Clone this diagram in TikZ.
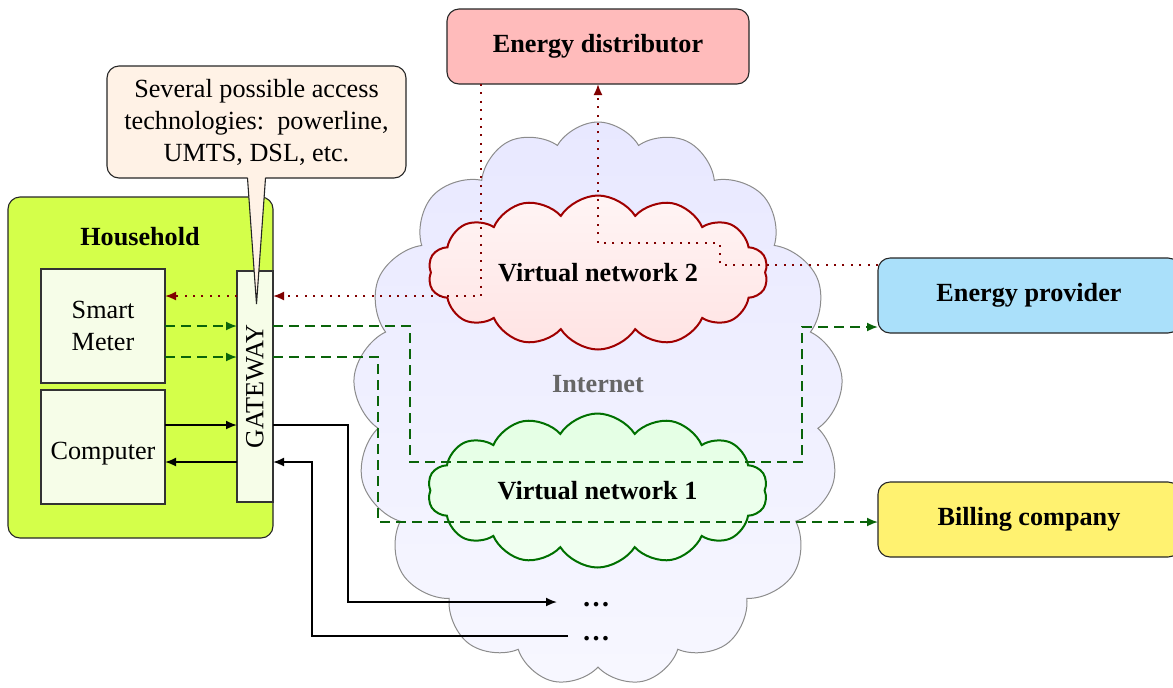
\documentclass[tikz,border=0pt]{standalone}
\usepackage{fontspec}
\setmainfont{Liberation Serif}
\usetikzlibrary{shapes.symbols,arrows.meta,calc}

\definecolor{hhfill}{HTML}{D4FF4A}
\definecolor{devfill}{HTML}{F6FDE8}
\definecolor{notefill}{HTML}{FFF2E6}
\definecolor{distfill}{HTML}{FFBBBB}
\definecolor{provfill}{HTML}{AAE0FA}
\definecolor{billfill}{HTML}{FFF270}
\definecolor{flowred}{HTML}{800000}
\definecolor{flowgreen}{HTML}{0A640A}
\definecolor{vnred}{HTML}{A00000}
\definecolor{vngreen}{HTML}{007000}

\begin{document}
\begin{tikzpicture}[x=0.5pt,y=-0.5pt,
  every node/.style={font=\fontsize{13.1}{16}\selectfont, outer sep=0pt},
  party/.style={draw=black!85, line width=0.55pt, rounded corners=6pt,
    minimum width=151pt, minimum height=37.5pt,
    font=\fontsize{13.1}{16}\selectfont\bfseries},
  device/.style={draw=black!80, fill=devfill, line width=0.55pt,
    minimum width=62pt, minimum height=57pt, align=center},
  tip/.style={-{Latex[length=5.5pt,width=4.5pt]}},
  redflow/.style={tip, flowred, line width=0.9pt, dash pattern=on 1pt off 3.2pt},
  greenflow/.style={tip, flowgreen, line width=0.9pt, dash pattern=on 5pt off 3pt},
  dataflow/.style={tip, black, line width=0.9pt},
  vnet/.style={cloud, cloud ignores aspect, line width=1pt, inner sep=0pt,
    minimum width=170pt, minimum height=77pt,
    font=\fontsize{13.1}{16}\selectfont\bfseries},
  more/.style={inner xsep=0pt, font=\fontsize{14}{16}\selectfont\bfseries},
]
\useasboundingbox (0,0) rectangle (1173,687);

% the internet and the two virtual networks inside it
\node[cloud, cloud puffs=17, cloud puff arc=120, cloud ignores aspect,
  minimum width=245pt, minimum height=282pt, draw=black!45, line width=0.5pt,
  top color=blue!9, bottom color=blue!3] (inet) at (598,404) {};
\node[font=\fontsize{13.1}{16}\selectfont\bfseries, text=black!60] (inetlbl) at (598,384) {Internet};
\node[vnet, cloud puffs=14, cloud puff arc=115, draw=vnred,
  top color=red!4, bottom color=red!11] (vn2) at (598,272.5) {Virtual network 2};
\node[vnet, cloud puffs=14, cloud puff arc=115, draw=vngreen,
  top color=green!11, bottom color=green!5] (vn1) at (597.5,490.5) {Virtual network 1};

% household with its devices and the gateway
\node[draw=black!85, line width=0.55pt, rounded corners=6pt, fill=hhfill,
  minimum width=132.5pt, minimum height=170.5pt] (hh) at (140.5,367.5) {};
\node[font=\fontsize{13.1}{16}\selectfont\bfseries] (hhlbl) at (140,237) {Household};
\node[device] (sm) at (103,326) {Smart\\Meter};
\node[device] (cp) at (103,447) {\raisebox{-6pt}[0pt][0pt]{Computer}};
\node[draw=black!80, fill=devfill, line width=0.55pt,
  minimum width=18pt, minimum height=115.5pt] (gw) at (255,386.5) {};
\node[rotate=90] (gwlbl) at (gw.center) {GATEWAY};

% external parties
\node[party, fill=distfill] (ed) at (598,46.5) {Energy distributor};
\node[party, fill=provfill] (ep) at (1029,295.5) {Energy provider};
\node[party, fill=billfill] (bc) at (1029,519.5) {Billing company};

% further destinations
\node[more] (d1) at (596,605) {\dots};
\node[more] (d2) at (596,639) {\dots};

% control messages from the distributor and provider side
\draw[redflow] (ed.south -| 481,0) -- (481,296) -- (gw.east |- 0,296);
\draw[redflow] (gw.west |- 0,296) -- (sm.east |- 0,296);
\draw[redflow] (ep.west |- 0,265) -- (720,265) -- (720,243) -- (598,243) -- (ed.south);

% metering data
\draw[greenflow] (sm.east |- 0,326) -- (gw.west |- 0,326);
\draw[greenflow] (gw.east |- 0,326) -- (410,326) -- (410,462) -- (802,462) -- (802,327) -- (ep.west |- 0,327);
\draw[greenflow] (sm.east |- 0,357) -- (gw.west |- 0,357);
\draw[greenflow] (gw.east |- 0,357) -- (378,357) -- (378,522) -- (bc.west |- 0,522);

% ordinary internet traffic
\draw[dataflow] (cp.east |- 0,425) -- (gw.west |- 0,425);
\draw[dataflow] (gw.east |- 0,425) -- (348,425) -- (348,602) -- ([xshift=-12.5pt]d1.west |- 0,602);
\draw[dataflow] ([xshift=-7pt]d2.west |- 0,636) -- (312,636) -- (312,462) -- (gw.east |- 0,462);
\draw[dataflow] (gw.west |- 0,462) -- (cp.east |- 0,462);

% note on access technologies
\node[draw=black!85, line width=0.55pt, rounded corners=6pt, fill=notefill,
  minimum width=149.5pt, minimum height=56pt, align=center] (note) at (256.5,122)
  {Several possible access\\technologies:\ \ powerline,\\UMTS, DSL, etc.};
\fill[notefill] (247.5,176) -- (256.5,304) -- (265.5,176) -- cycle;
\draw[black!85, line width=0.55pt, line join=miter] (247.5,178) -- (256.5,304) -- (265.5,178);
\end{tikzpicture}
\end{document}
